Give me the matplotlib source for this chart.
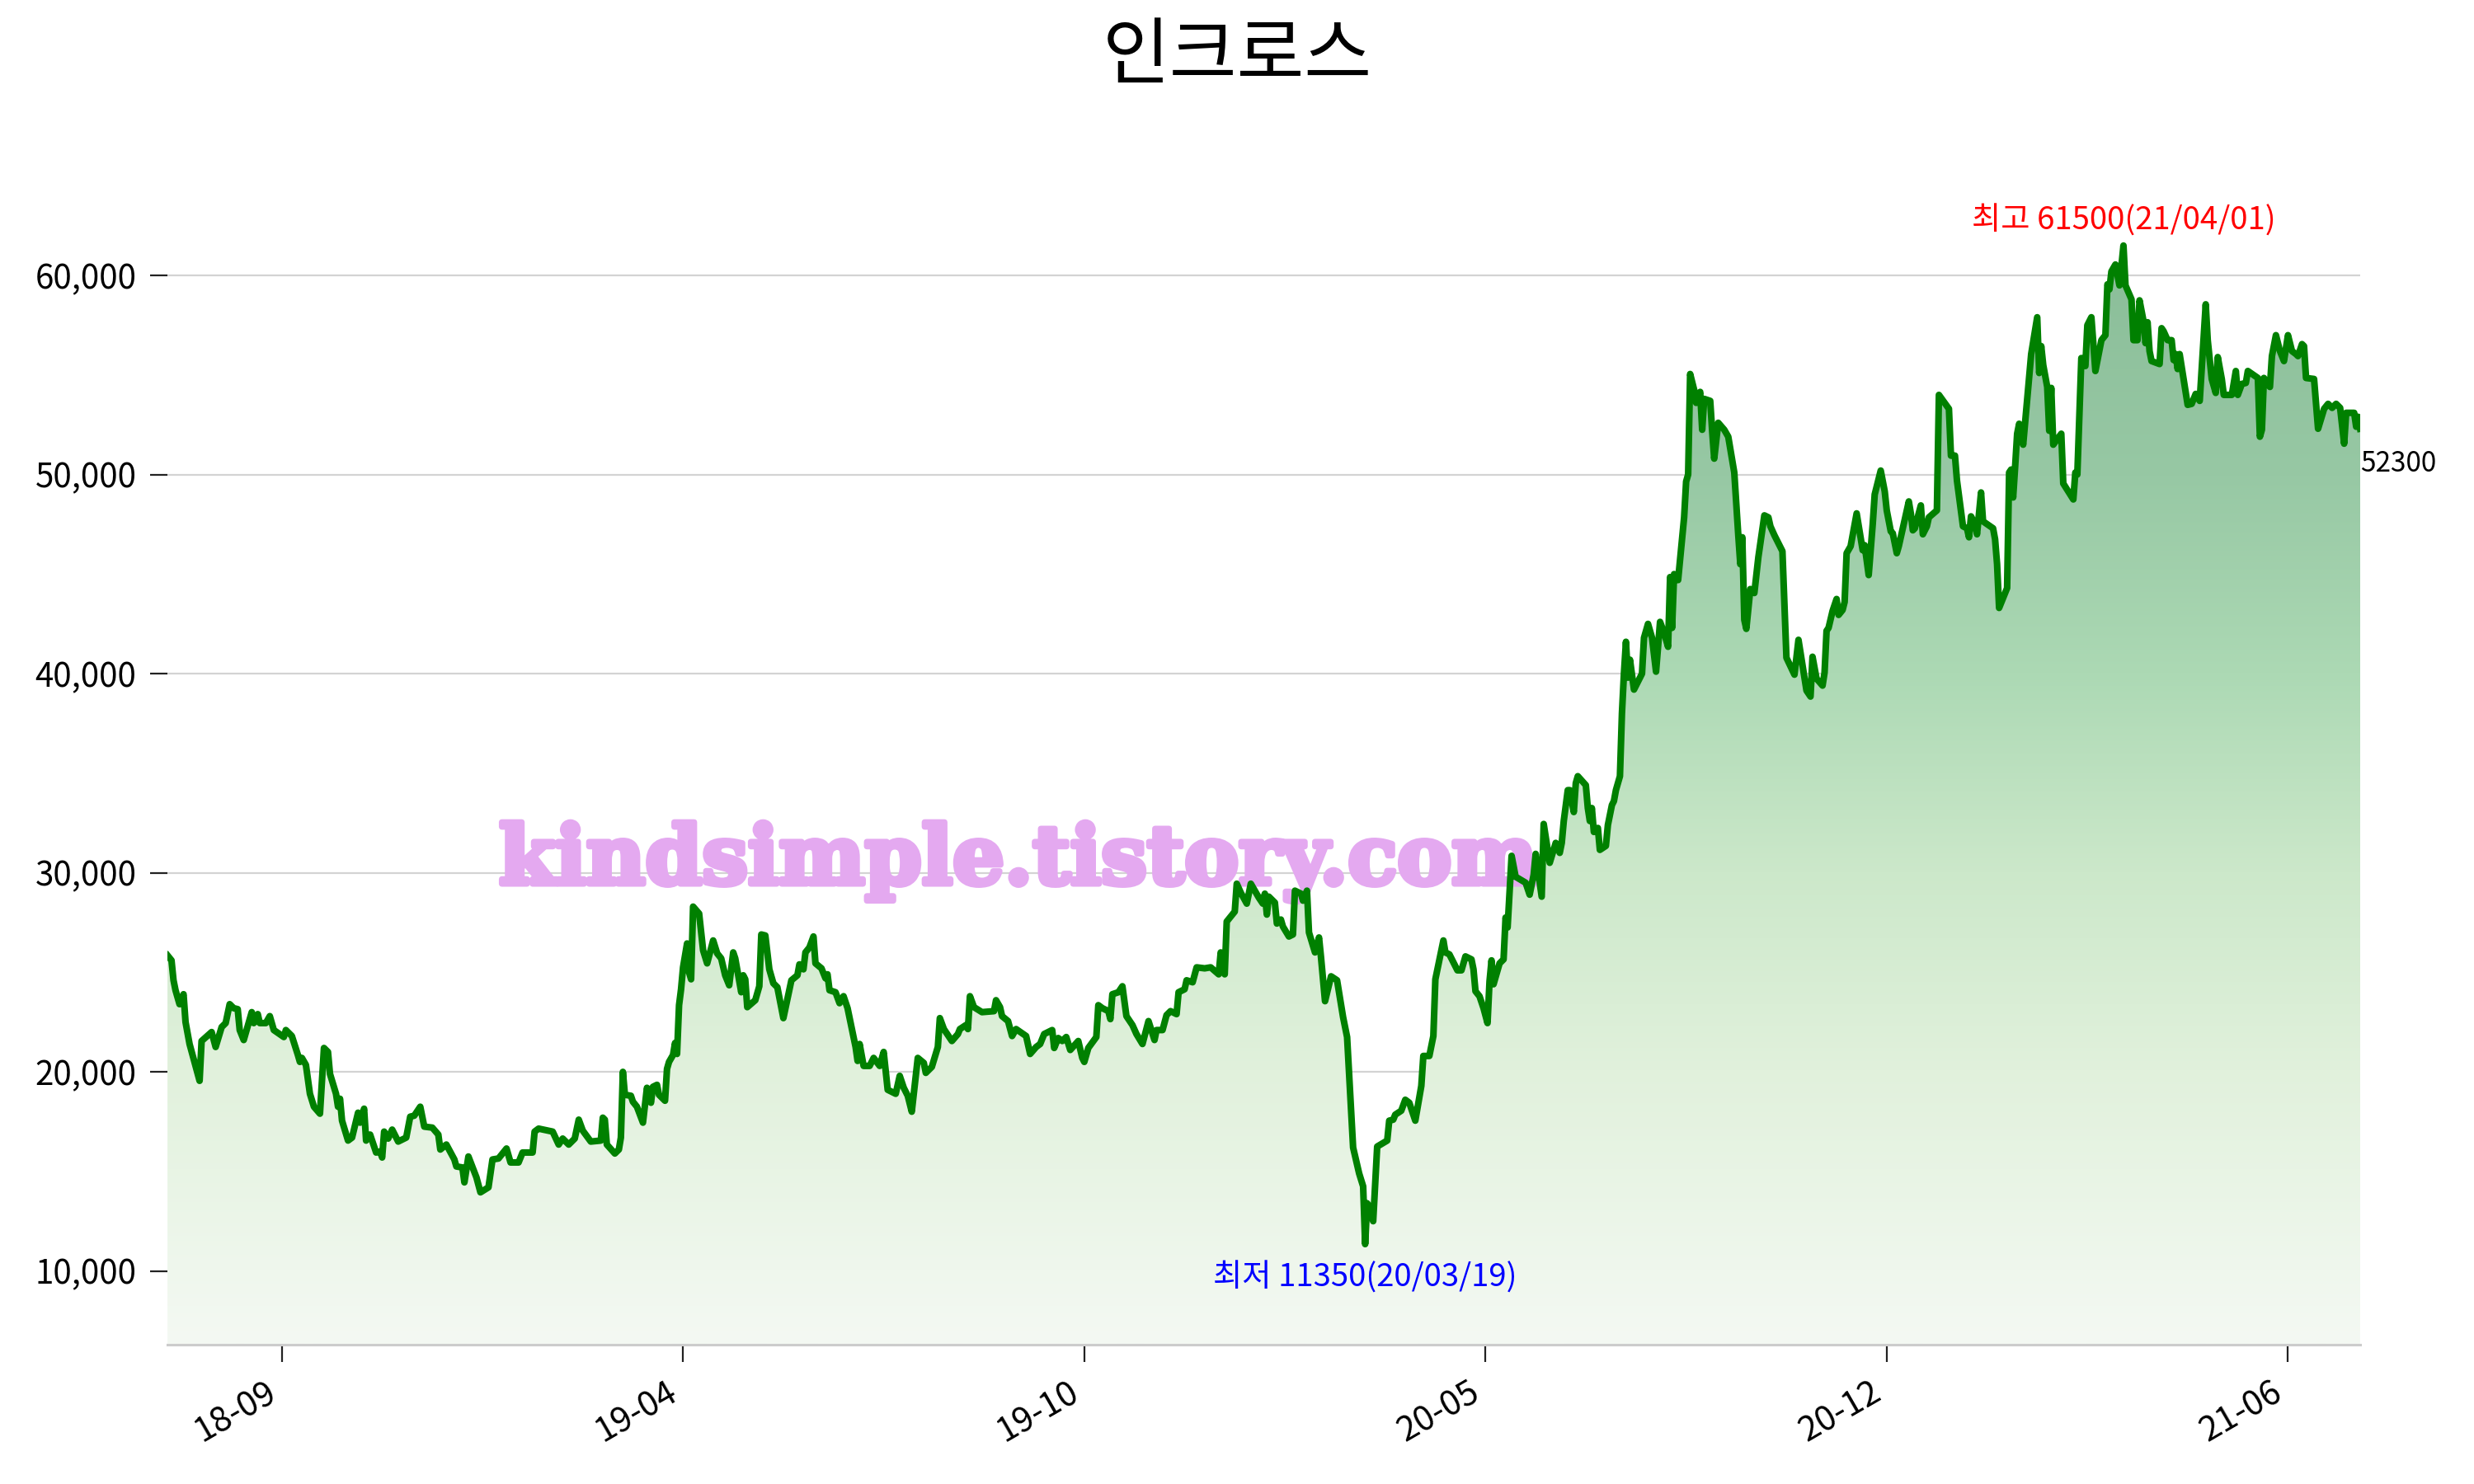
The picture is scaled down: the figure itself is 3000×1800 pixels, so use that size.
import matplotlib
matplotlib.use('Agg')

import numpy as np
import pandas as pd
import matplotlib.pyplot as plt
import matplotlib.dates as mdates
import matplotlib.patheffects as pe
from matplotlib.colors import LinearSegmentedColormap
from matplotlib.patches import Polygon
from matplotlib.ticker import FuncFormatter

plt.rcParams['font.family'] = ['Noto Sans CJK KR', 'DejaVu Sans']

# 종가 (읽어낸 값) - 2018-07-31 기준 경과일 / 가격
start_date = '2018-07-31'
days = [
    0, 2, 3, 4, 6, 8, 9, 11, 14, 16, 17, 22, 24, 27, 29, 31, 33, 35, 36, 38,
    42, 43, 45, 46, 49, 51, 53, 58, 59, 62, 65, 66, 67, 69, 71, 73, 76, 78, 80, 81,
    84, 85, 86, 87, 90, 92, 95, 96, 98, 99, 101, 104, 106, 107, 108, 110, 112, 115, 119, 121,
    123, 126, 128, 132, 135, 136, 139, 143, 144, 147, 148, 150, 154, 156, 160, 162, 165, 169, 171, 175,
    177, 182, 183, 185, 192, 195, 197, 200, 203, 205, 207, 211, 216, 217, 218, 219, 223, 225, 226, 227,
    228, 231, 232, 234, 237, 239, 241, 242, 244, 245, 248, 249, 250, 252, 253, 254, 255, 256, 257, 259,
    260, 261, 262, 265, 267, 269, 272, 274, 276, 278, 280, 282, 283, 286, 287, 288, 289, 293, 295, 296,
    298, 300, 302, 304, 307, 311, 314, 315, 317, 318, 320, 322, 323, 326, 328, 329, 330, 333, 335, 337,
    339, 343, 344, 345, 346, 347, 350, 352, 355, 357, 359, 363, 365, 367, 369, 371, 374, 377, 378, 381,
    384, 385, 387, 391, 394, 395, 398, 399, 400, 402, 406, 412, 413, 415, 416, 419, 421, 423, 428, 430,
    433, 435, 437, 441, 442, 444, 446, 448, 450, 454, 456, 457, 459, 463, 464, 466, 469, 470, 471, 474,
    476, 478, 481, 483, 486, 489, 492, 493, 496, 498, 500, 503, 504, 507, 508, 511, 513, 517, 520, 524,
    525, 527, 528, 532, 533, 535, 538, 540, 544, 546, 547, 548, 549, 552, 553, 555, 556, 559, 561, 562,
    565, 566, 568, 569, 572, 574, 575, 577, 580, 583, 586, 588, 591, 594, 596, 597, 598, 599, 601, 603,
    608, 609, 611, 612, 615, 617, 619, 622, 625, 626, 629, 631, 632, 636, 637, 639, 643, 645, 647, 650,
    651, 652, 654, 656, 658, 659, 660, 661, 664, 666, 667, 668, 670, 672, 677, 679, 681, 682, 685, 686,
    689, 692, 694, 695, 696, 698, 699, 701, 702, 703, 707, 708, 709, 710, 711, 713, 714, 717, 718, 720,
    721, 722, 724, 725, 726, 727, 728, 729, 731, 735, 736, 738, 740, 742, 744, 746, 748, 749, 750, 751,
    753, 756, 757, 758, 759, 761, 762, 764, 765, 766, 769, 770, 771, 773, 776, 778, 781, 783, 784, 785,
    786, 787, 789, 791, 793, 796, 798, 799, 801, 805, 807, 811, 813, 817, 819, 820, 822, 825, 826, 827,
    828, 830, 832, 833, 835, 836, 837, 839, 840, 842, 845, 846, 848, 849, 850, 851, 854, 856, 857, 859,
    860, 862, 863, 868, 869, 870, 871, 874, 875, 877, 878, 882, 883, 888, 889, 891, 892, 895, 897, 898,
    899, 901, 902, 904, 905, 910, 911, 912, 913, 917, 918, 919, 920, 921, 922, 923, 925, 926, 929, 932,
    933, 934, 935, 937, 938, 939, 940, 944, 945, 950, 951, 952, 954, 956, 957, 959, 961, 964, 966, 967,
    968, 969, 971, 973, 975, 976, 979, 980, 982, 983, 985, 986, 987, 988, 989, 993, 994, 995, 997, 999,
    1000, 1001, 1002, 1003, 1007, 1009, 1011, 1013, 1016, 1017, 1019, 1021, 1022, 1024, 1025, 1029, 1031, 1032, 1034, 1036,
    1037, 1042, 1043, 1044, 1045, 1048, 1049, 1051, 1053, 1055, 1057, 1059, 1061, 1062, 1064, 1065, 1066, 1070, 1072, 1075,
    1077, 1079, 1081, 1083, 1085, 1086, 1090, 1091, 1092, 1093,
]
prices = [
    25850, 25600, 24600, 24100, 23400, 23900, 22500, 21400, 20300, 19550, 21550, 22000, 21250, 22250, 22450, 23400, 23200, 23150, 22100, 21600,
    23000, 22450, 22900, 22450, 22450, 22800, 22100, 21750, 22100, 21800, 20850, 20500, 20700, 20350, 18900, 18250, 17900, 21200, 21000, 19900,
    18900, 18250, 18650, 17550, 16550, 16700, 17950, 17450, 18150, 16550, 16850, 15950, 16000, 15700, 17000, 16650, 17100, 16500, 16700, 17750,
    17800, 18250, 17250, 17200, 16850, 16100, 16350, 15600, 15250, 15200, 14450, 15750, 14700, 13950, 14200, 15600, 15650, 16150, 15450, 15450,
    15950, 15950, 17000, 17150, 17000, 16350, 16650, 16350, 16650, 17600, 17050, 16500, 16550, 17700, 17600, 16350, 15900, 16100, 16700, 20000,
    18850, 18800, 18500, 18250, 17450, 19200, 18450, 19250, 19350, 18850, 18550, 20150, 20500, 20850, 21450, 20900, 23350, 24150, 25250, 26450,
    25000, 24650, 28300, 27950, 26100, 25450, 26600, 25950, 25700, 24850, 24350, 26000, 25700, 24000, 24850, 24650, 23250, 23600, 24300, 26900,
    26850, 25150, 24450, 24250, 22700, 24600, 24850, 25400, 25150, 26000, 26250, 26800, 25450, 25200, 24700, 24900, 24100, 24000, 23450, 23800,
    23200, 21250, 20550, 21400, 20850, 20300, 20300, 20700, 20300, 21000, 19100, 18900, 19800, 19200, 18800, 18000, 20700, 20450, 19950, 20250,
    21250, 22700, 22150, 21550, 21900, 22150, 22350, 22150, 23800, 23250, 23000, 23050, 23600, 23250, 22800, 22550, 21800, 22150, 21800, 20900,
    21250, 21400, 21900, 22100, 21200, 21700, 21550, 21750, 21100, 21550, 20700, 20500, 21200, 21750, 23350, 23200, 23050, 22650, 23900, 24000,
    24300, 22800, 22350, 21900, 21400, 22550, 21600, 22100, 22100, 22850, 23050, 22900, 24000, 24150, 24600, 24500, 25250, 25200, 25250, 24900,
    26000, 24900, 27550, 28050, 29450, 29000, 28450, 29450, 28750, 28450, 28950, 27900, 28800, 28500, 27450, 27650, 27300, 26800, 26900, 29100,
    28950, 28600, 29100, 27000, 26000, 26750, 25750, 23550, 24800, 24600, 22750, 21750, 16200, 14900, 14250, 11350, 13400, 13250, 12500, 16250,
    16550, 17550, 17600, 17850, 18050, 18600, 18450, 17550, 19300, 20800, 20800, 21800, 24650, 26600, 26000, 25900, 25100, 25100, 25800, 25650,
    25150, 24050, 23800, 23200, 22450, 24550, 25600, 24400, 25450, 25650, 27750, 27250, 30850, 29800, 29500, 28900, 29900, 30950, 28800, 32450,
    30500, 31500, 31000, 31500, 32600, 34150, 34150, 33050, 34500, 34850, 34400, 33250, 32600, 33250, 32050, 32250, 31150, 31350, 32400, 33400,
    33600, 34150, 34850, 38000, 40000, 41600, 39800, 40700, 39200, 40000, 41800, 42500, 41800, 40100, 42600, 42050, 41350, 44850, 42300, 45000,
    44700, 47850, 49650, 50000, 55050, 54250, 53600, 54150, 52250, 53800, 53700, 52150, 50800, 52600, 52250, 51900, 50100, 46950, 45500, 46850,
    42700, 42250, 44250, 44050, 45850, 47950, 47850, 47400, 46950, 46150, 40800, 39950, 41700, 39150, 38850, 40850, 39750, 39400, 40050, 42150,
    42300, 43150, 43750, 42950, 43200, 43600, 46050, 46400, 46950, 48050, 46200, 46450, 44950, 46250, 47500, 49000, 50200, 49150, 48200, 47150,
    47050, 46050, 46400, 48650, 48050, 47200, 47300, 48450, 47000, 47400, 47850, 48200, 54000, 53300, 50950, 50950, 49700, 47400, 47300, 46850,
    47900, 47500, 47000, 49100, 47650, 47300, 46750, 45500, 43300, 44300, 50100, 50250, 48850, 50400, 52050, 52550, 51500, 52650, 56050, 57900,
    55100, 56450, 55500, 54400, 52200, 54350, 51500, 52050, 49550, 48750, 50100, 50000, 55850, 55450, 57500, 57900, 55200, 56750, 57000, 59550,
    59300, 60200, 60550, 59500, 61500, 59500, 58800, 56750, 56750, 58750, 57700, 56600, 57650, 56200, 55700, 55550, 57350, 57200, 56750, 56750,
    55750, 56050, 55300, 56050, 53500, 53550, 54050, 53700, 58550, 56750, 54800, 54100, 55900, 54800, 54000, 54000, 55200, 54000, 54550, 54600,
    55200, 54850, 51900, 52250, 54850, 54400, 55950, 57000, 56200, 55700, 57000, 56200, 56050, 55950, 56550, 56450, 54850, 54800, 52300, 53300,
    53550, 53350, 53550, 53350, 51550, 53100, 53100, 52400, 52900, 52300,
]

stock_name = '인크로스'
watermark = 'kindsimple.tistory.com'
y_ticks = [10000, 20000, 30000, 40000, 50000, 60000]
tick_dates = ['2018-09-26', '2019-04-14', '2019-10-31', '2020-05-18', '2020-12-04', '2021-06-22']
y_low, y_high = 6300, 66000

# gradient fill colours, bottom -> top
grad_stops = [(0.0, '#f4f9f3'), (0.062, '#eff7ed'), (0.23, '#e1f1dc'), (0.397, '#cce8ca'),
              (0.565, '#acd9b4'), (0.732, '#97c8a4'), (1.0, '#85b994')]

dates = pd.Timestamp(start_date) + pd.to_timedelta(days, unit='D')
x = mdates.date2num(dates.to_pydatetime())
y = np.array(prices)

fig = plt.figure(figsize=(15, 9), dpi=200)
ax = fig.add_axes([0.0677, 0.0939, 0.8863, 0.801])

# gradient area under the line
cmap = LinearSegmentedColormap.from_list('area', grad_stops)
grad = np.linspace(0, 1, 512).reshape(-1, 1)
im = ax.imshow(grad, extent=[x[0], x[-1], y_low, y_high], origin='lower',
               aspect='auto', cmap=cmap, zorder=1, interpolation='bicubic')
verts = [(x[0], y_low)] + list(zip(x, y)) + [(x[-1], y_low)]
area = Polygon(verts, closed=True, facecolor='none', edgecolor='none')
ax.add_patch(area)
im.set_clip_path(area)

ax.plot(x, y, color='#008000', lw=2.9, zorder=3, solid_joinstyle='round')

# watermark (between the area and the line)
wm = ax.text(0.4117, 0.4044, watermark, transform=fig.transFigure,
             ha='center', va='baseline', fontsize=35.5,
             family='DejaVu Serif', weight='bold', color='#e4a9f0', zorder=2.5)
wm.set_path_effects([pe.withStroke(linewidth=2.5, foreground='#e4a9f0')])

# high / low / last annotations
i_max = int(np.argmax(y))
i_min = int(np.argmin(y))
ax.text(x[i_max], y[i_max] + 1250,
        f'최고 {y[i_max]}({dates[i_max].strftime("%y/%m/%d")})',
        color='red', fontsize=13.8, ha='center', va='center', zorder=4)
ax.text(x[i_min], y[i_min] - 1700,
        f'최저 {y[i_min]}({dates[i_min].strftime("%y/%m/%d")})',
        color='blue', fontsize=13.8, ha='center', va='center', zorder=4)
ax.text(x[-1], y[-1] - 1750, f'{y[-1]}', color='black', fontsize=12,
        ha='left', va='center', zorder=4)

fig.text(0.5, 0.961, stock_name, ha='center', va='center', fontsize=32)

ax.set_xlim(x[0], x[-1])
ax.set_ylim(y_low, y_high)

ax.set_yticks(y_ticks)
ax.yaxis.set_major_formatter(FuncFormatter(lambda v, p: f'{v:,.0f}'))
tick_x = mdates.date2num(pd.to_datetime(tick_dates).to_pydatetime())
ax.set_xticks(tick_x)
ax.set_xticklabels([pd.Timestamp(d).strftime('%y-%m') for d in tick_dates],
                   rotation=30, ha='right')

ax.tick_params(axis='both', labelsize=14.5, length=7.5, width=0.8, color='#222222', pad=6)
ax.tick_params(axis='x', labelsize=15)
ax.grid(axis='y', color='#d3d3d3', lw=0.8, zorder=0)
ax.set_axisbelow(True)
for s in ['left', 'top', 'right']:
    ax.spines[s].set_visible(False)
ax.spines['bottom'].set_color('#cccccc')
ax.spines['bottom'].set_linewidth(1.1)

fig.savefig('out.png', dpi=200)
